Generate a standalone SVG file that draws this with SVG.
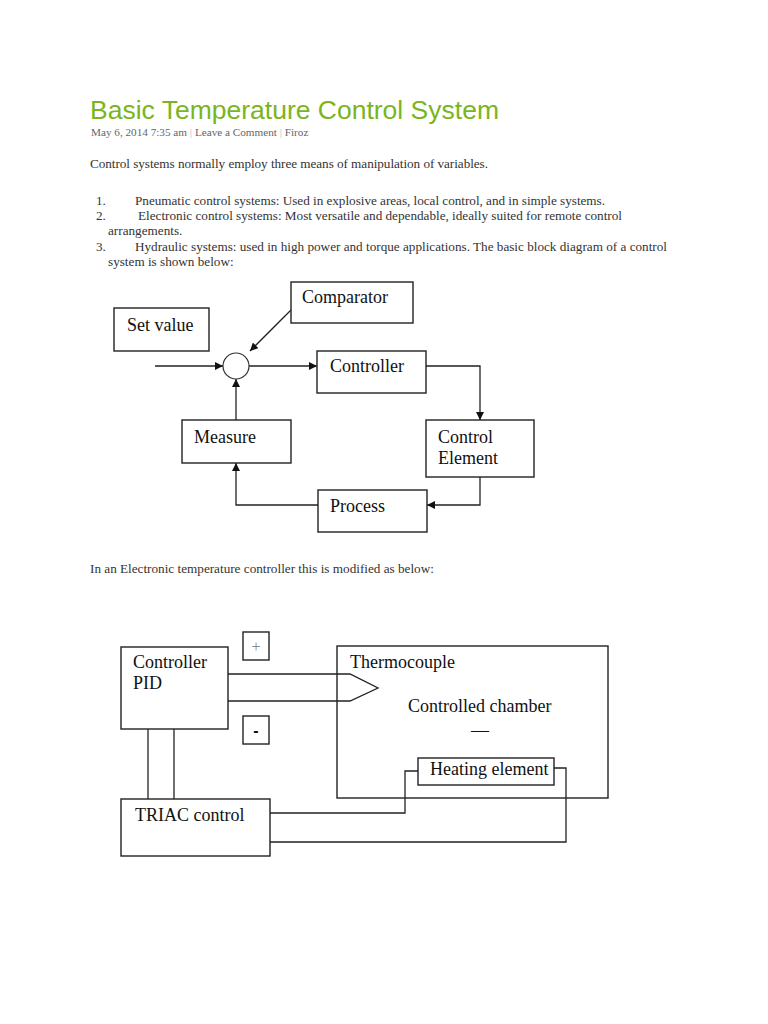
<svg xmlns="http://www.w3.org/2000/svg" width="768" height="1024" viewBox="0 0 768 1024">
<style>
.box{fill:#fff;stroke:#222;stroke-width:1.4}
.wire{fill:none;stroke:#222;stroke-width:1.3}
.lbl{font-family:"Liberation Serif","Times New Roman",serif;font-size:18px;fill:#111}
.body{font-family:"Liberation Serif","Times New Roman",serif;font-size:13.2px;fill:#333}
.meta{font-family:"Liberation Serif","Times New Roman",serif;font-size:11.2px;fill:#666}
.title{font-family:"Liberation Sans",Arial,sans-serif;font-size:26.5px;fill:#7ab51d}
</style>
<defs>
<marker id="arr" viewBox="0 0 10 10" refX="10" refY="5" markerWidth="8" markerHeight="8" markerUnits="userSpaceOnUse" orient="auto">
<path d="M0,0 L10,5 L0,10 Z" fill="#111"/>
</marker>
</defs>
<rect width="768" height="1024" fill="#fff"/>

<g id="header">
<text class="title" x="90" y="119">Basic Temperature Control System</text>
<text class="meta" x="91" y="136">May 6, 2014 7:35 am <tspan fill="#bbb">|</tspan> Leave a Comment <tspan fill="#bbb">|</tspan> Firoz</text>
<text class="body" x="90" y="168" textLength="398">Control systems normally employ three means of manipulation of variables.</text>
<text class="body" x="96" y="205">1.</text>
<text class="body" x="135" y="205" textLength="470">Pneumatic control systems: Used in explosive areas, local control, and in simple systems.</text>
<text class="body" x="96" y="220">2.</text>
<text class="body" x="138" y="220" textLength="484">Electronic control systems: Most versatile and dependable, ideally suited for remote control</text>
<text class="body" x="108" y="235">arrangements.</text>
<text class="body" x="96" y="251">3.</text>
<text class="body" x="135" y="251" textLength="532">Hydraulic systems: used in high power and torque applications. The basic block diagram of a control</text>
<text class="body" x="108" y="266">system is shown below:</text>
<text class="body" x="90" y="573">In an Electronic temperature controller this is modified as below:</text>
</g>

<g id="connectors1">
<line class="wire" x1="155" y1="366" x2="223" y2="366" marker-end="url(#arr)"/>
<line class="wire" x1="249" y1="366" x2="317" y2="366" marker-end="url(#arr)"/>
<path class="wire" d="M426,366 H480 V420" marker-end="url(#arr)"/>
<path class="wire" d="M480,477 V505 H427" marker-end="url(#arr)"/>
<path class="wire" d="M318,505 H236 V463" marker-end="url(#arr)"/>
<line class="wire" x1="236" y1="420" x2="236" y2="379" marker-end="url(#arr)"/>
<line class="wire" x1="291" y1="310" x2="250" y2="351" marker-end="url(#arr)"/>
</g>

<g id="comparator"><rect class="box" x="291" y="282" width="122" height="41"/><text class="lbl" x="302" y="303">Comparator</text></g>
<g id="setvalue"><rect class="box" x="114" y="308" width="95" height="43"/><text class="lbl" x="127" y="331">Set value</text></g>
<g id="summing"><circle cx="236" cy="366" r="13" fill="#fff" stroke="#333" stroke-width="1.2"/></g>
<g id="controller"><rect class="box" x="317" y="351" width="109" height="42"/><text class="lbl" x="330" y="372">Controller</text></g>
<g id="controlelement"><rect class="box" x="426" y="420" width="108" height="57"/><text class="lbl" x="438" y="443">Control</text><text class="lbl" x="438" y="464">Element</text></g>
<g id="measure"><rect class="box" x="182" y="420" width="109" height="43"/><text class="lbl" x="194" y="443">Measure</text></g>
<g id="process"><rect class="box" x="318" y="490" width="109" height="42"/><text class="lbl" x="330" y="512">Process</text></g>

<g id="chamber"><rect class="box" x="337" y="646" width="271" height="152"/>
<text class="lbl" x="350" y="668">Thermocouple</text>
<text class="lbl" x="408" y="712">Controlled chamber</text>
<text class="lbl" x="480" y="736" text-anchor="middle" font-size="15">—</text></g>

<g id="connectors2">
<path class="wire" d="M228,674 H350 L378,688 L350,701 H228"/>
<line class="wire" x1="148" y1="729" x2="148" y2="799"/>
<line class="wire" x1="174" y1="729" x2="174" y2="799"/>
<path class="wire" d="M270,813 H405 V771 H418"/>
<path class="wire" d="M554,768 H566 V842 H270"/>
</g>

<g id="plus"><rect class="box" x="243" y="632" width="26" height="28"/><text x="256" y="652" text-anchor="middle" font-family="Liberation Serif,serif" font-size="16" fill="#888">+</text></g>
<g id="minus"><rect class="box" x="243" y="716" width="26" height="28"/><text x="256" y="736" text-anchor="middle" font-family="Liberation Sans,sans-serif" font-weight="bold" font-size="16" fill="#111">-</text></g>
<g id="pid"><rect class="box" x="121" y="647" width="107" height="82"/><text class="lbl" x="133" y="668">Controller</text><text class="lbl" x="133" y="689">PID</text></g>
<g id="heating"><rect class="box" x="418" y="758" width="136" height="27"/><text class="lbl" x="430" y="775">Heating element</text></g>
<g id="triac"><rect class="box" x="121" y="799" width="149" height="57"/><text class="lbl" x="135" y="821">TRIAC control</text></g>
</svg>
